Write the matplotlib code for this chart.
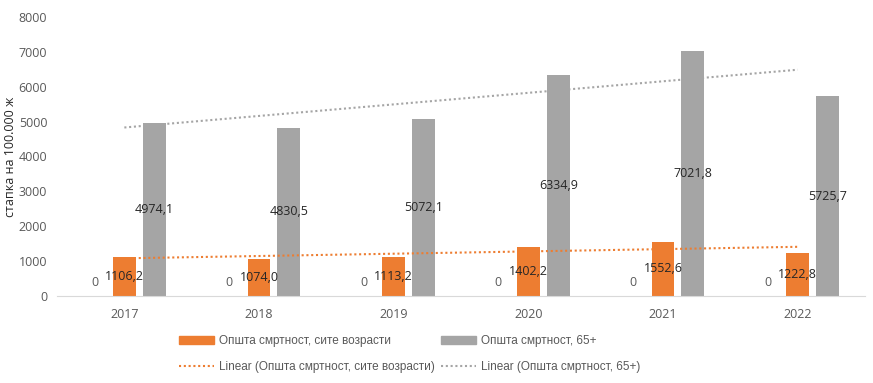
import numpy as np
import matplotlib
matplotlib.use("Agg")
import matplotlib.pyplot as plt
from matplotlib.patches import Patch
from matplotlib.lines import Line2D

years = ["2017", "2018", "2019", "2020", "2021", "2022"]
zero_series = [0, 0, 0, 0, 0, 0]
all_ages = [1106.2, 1074.0, 1113.2, 1402.2, 1552.6, 1222.8]
over_65 = [4974.1, 4830.5, 5072.1, 6334.9, 7021.8, 5725.7]

name_all = "Општа смртност, сите возрасти"
name_65 = "Општа смртност, 65+"
y_label = "стапка на 100.000 ж"

orange = "#ED7D31"
grey = "#A5A5A5"
txt = "#595959"

plt.rcParams["font.family"] = ["Open Sans", "DejaVu Sans"]


def fmt(v):
    return f"{v:.1f}".replace(".", ",")


fig = plt.figure(figsize=(8.73, 3.83), dpi=100)
ax = fig.add_axes([0.0653, 0.2272, 0.9255, 0.7284])

x = np.arange(len(years))
w = 0.17
off = 0.222

ax.bar(x - off, zero_series, w, color="#5B9BD5")
ax.bar(x, all_ages, w, color=orange)
ax.bar(x + off, over_65, w, color=grey)

for xi, v in zip(x - off, zero_series):
    ax.annotate("0", (xi, v), xytext=(0, 10), textcoords="offset points",
                ha="center", va="center", fontsize=9, color=txt)
for xi, v in zip(x, all_ages):
    ax.text(xi, v / 2, fmt(v), ha="center", va="center", fontsize=9, color="#262626")
for xi, v in zip(x + off, over_65):
    ax.text(xi, v / 2, fmt(v), ha="center", va="center", fontsize=9, color="#262626")

# linear trend lines, like Excel
k1 = np.polyfit(x, all_ages, 1)
k2 = np.polyfit(x, over_65, 1)
dots = (0, (1, 1.3))
ax.plot(x, np.polyval(k1, x), color=orange, lw=1.5, ls=dots)
ax.plot(x, np.polyval(k2, x), color=grey, lw=1.5, ls=dots)

ax.set_xlim(-0.5, len(years) - 0.5)
ax.set_ylim(0, 8000)
ax.set_yticks(range(0, 8001, 1000))
ax.set_xticks(x)
ax.set_xticklabels(years)
ax.tick_params(axis="both", length=0, labelsize=9, colors=txt, pad=7)
ax.tick_params(axis="x", pad=9)
for s in ["top", "right", "left"]:
    ax.spines[s].set_visible(False)
ax.spines["bottom"].set_color("#D9D9D9")
ax.set_ylabel(y_label, fontsize=9, color="#262626", labelpad=1)

handles = [
    Patch(color=orange),
    Line2D([], [], color=orange, lw=1.5, ls=dots),
    Patch(color=grey),
    Line2D([], [], color=grey, lw=1.5, ls=dots),
]
labels = [name_all, "Linear (" + name_all + ")", name_65, "Linear (" + name_65 + ")"]
fig.legend(handles, labels, ncol=2, loc="center", bbox_to_anchor=(0.469, 0.075),
           frameon=False, prop={"family": ["Liberation Sans", "DejaVu Sans"], "size": 8.5},
           handlelength=3.0, handleheight=0.6, handletextpad=0.4, columnspacing=0.5,
           labelspacing=1.2, labelcolor=txt)

fig.savefig("out.png", dpi=100)
